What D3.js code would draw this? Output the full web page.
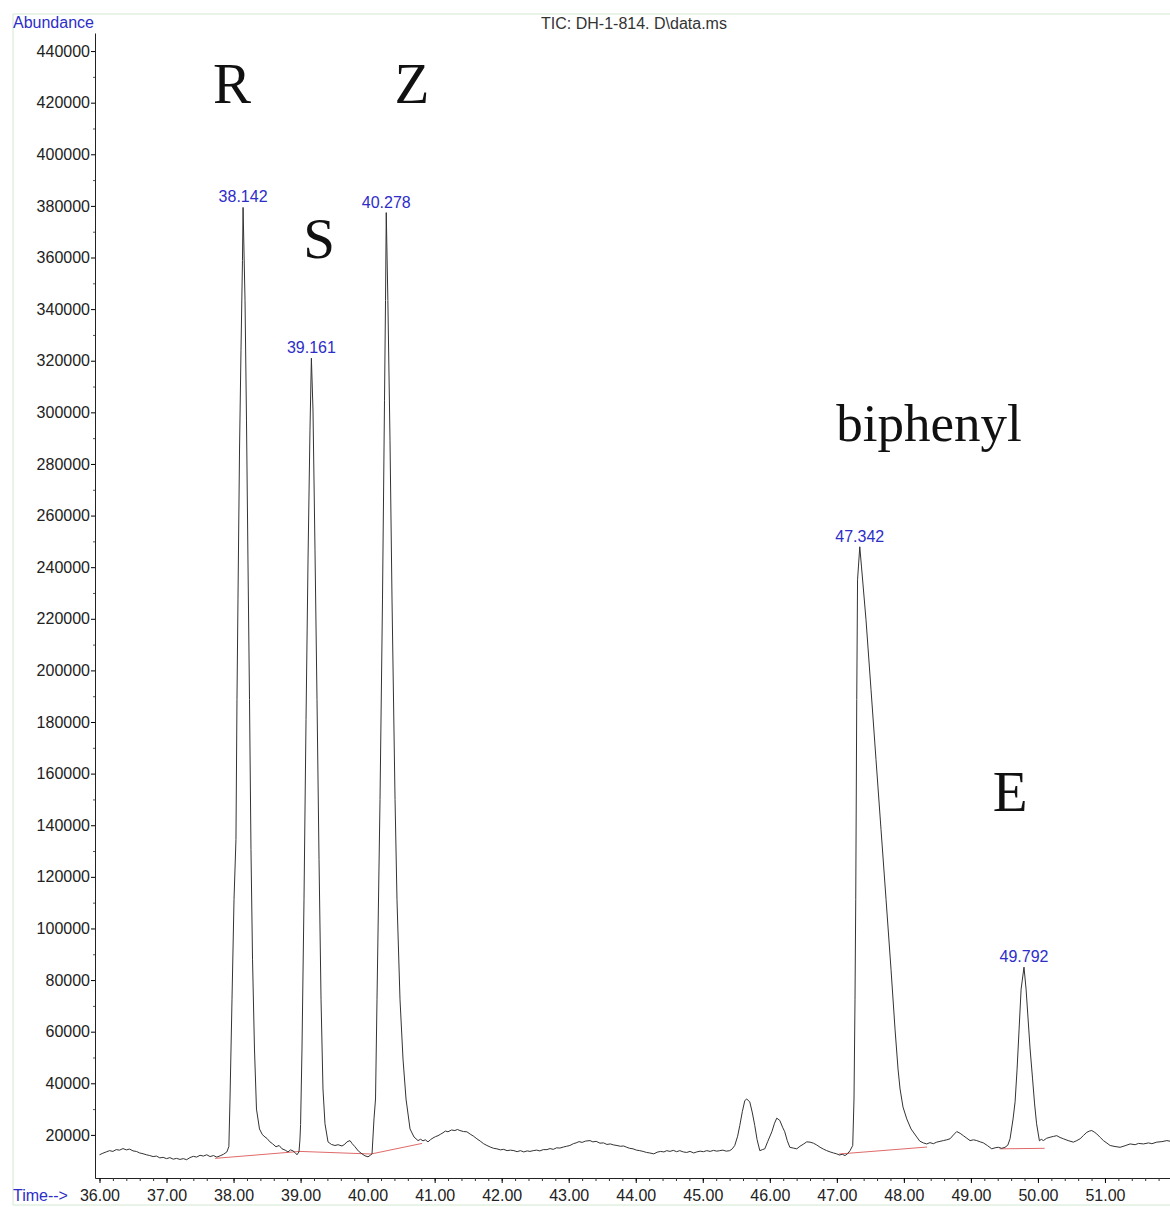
<!DOCTYPE html>
<html>
<head>
<meta charset="utf-8">
<script src="https://cdn.jsdelivr.net/npm/d3@7/dist/d3.min.js"></script>
<style>
  body { margin: 0; background: #fff; }
</style>
</head>
<body>
<div id="chart"></div>
<script>
// TIC trace (time in min, abundance)
var time = [
  36.00, 36.05, 36.10, 36.15, 36.20, 36.25, 36.30, 36.35, 36.40, 36.45,
  36.50, 36.55, 36.60, 36.65, 36.70, 36.75, 36.80, 36.85, 36.90, 36.95,
  37.00, 37.05, 37.10, 37.15, 37.20, 37.25, 37.30, 37.35, 37.40, 37.45,
  37.50, 37.55, 37.60, 37.65, 37.70, 37.75, 37.80, 37.85, 37.90, 37.93,
  37.947, 37.977, 38.007, 38.036, 38.051, 38.066, 38.089, 38.111, 38.133, 38.142,
  38.171, 38.193, 38.215, 38.238, 38.260, 38.283, 38.312, 38.342, 38.387, 38.43,
  38.469, 38.50, 38.543, 38.58, 38.633, 38.68, 38.723, 38.77, 38.812, 38.85,
  38.887, 38.92, 38.946, 38.976, 38.99, 39.00, 39.021, 39.051, 39.081, 39.111,
  39.140, 39.161, 39.185, 39.215, 39.245, 39.275, 39.305, 39.334, 39.364, 39.409,
  39.46, 39.513, 39.56, 39.618, 39.66, 39.692, 39.737, 39.77, 39.812, 39.86,
  39.916, 39.96, 40.006, 40.04, 40.066, 40.095, 40.118, 40.140, 40.185, 40.222,
  40.252, 40.267, 40.278, 40.302, 40.334, 40.364, 40.409, 40.438, 40.483, 40.528,
  40.573, 40.633, 40.692, 40.752, 40.79, 40.826, 40.86, 40.901, 40.94, 40.975,
  41.01, 41.05, 41.09, 41.124, 41.16, 41.199, 41.25, 41.303, 41.34, 41.377,
  41.43, 41.481, 41.53, 41.58, 41.63, 41.68, 41.73, 41.78, 41.83, 41.88,
  41.929, 41.98, 42.03, 42.08, 42.13, 42.183, 42.23, 42.28, 42.33, 42.38,
  42.422, 42.47, 42.52, 42.57, 42.62, 42.675, 42.72, 42.77, 42.82, 42.869,
  42.92, 42.97, 43.018, 43.07, 43.11, 43.153, 43.20, 43.25, 43.317, 43.36,
  43.41, 43.466, 43.52, 43.57, 43.62, 43.672, 43.72, 43.77, 43.82, 43.866,
  43.91, 43.96, 44.01, 44.06, 44.11, 44.16, 44.21, 44.269, 44.32, 44.37,
  44.42, 44.463, 44.51, 44.56, 44.61, 44.657, 44.71, 44.76, 44.81, 44.866,
  44.91, 44.96, 45.01, 45.06, 45.11, 45.16, 45.21, 45.254, 45.30, 45.35,
  45.403, 45.44, 45.477, 45.52, 45.552, 45.59, 45.627, 45.656, 45.701, 45.74,
  45.776, 45.81, 45.851, 45.89, 45.925, 45.97, 46.03, 46.07, 46.104, 46.149,
  46.19, 46.223, 46.26, 46.298, 46.35, 46.402, 46.45, 46.507, 46.55, 46.60,
  46.65, 46.70, 46.75, 46.80, 46.849, 46.90, 46.95, 46.998, 47.04, 47.08,
  47.122, 47.16, 47.197, 47.237, 47.256, 47.271, 47.282, 47.297, 47.309, 47.342,
  47.368, 47.435, 47.510, 47.584, 47.659, 47.734, 47.808, 47.868, 47.913, 47.943,
  47.987, 48.043, 48.107, 48.192, 48.237, 48.29, 48.341, 48.39, 48.44, 48.49,
  48.54, 48.589, 48.64, 48.689, 48.74, 48.789, 48.84, 48.887, 48.94, 48.987,
  49.04, 49.087, 49.14, 49.186, 49.25, 49.311, 49.36, 49.409, 49.46, 49.509,
  49.55, 49.584, 49.629, 49.659, 49.689, 49.719, 49.749, 49.792, 49.823, 49.853,
  49.883, 49.920, 49.950, 49.980, 50.022, 50.05, 50.081, 50.13, 50.181, 50.23,
  50.281, 50.33, 50.38, 50.45, 50.529, 50.58, 50.629, 50.68, 50.729, 50.77,
  50.803, 50.84, 50.877, 50.93, 50.977, 51.03, 51.077, 51.15, 51.226, 51.30,
  51.375, 51.45, 51.50, 51.574, 51.65, 51.70, 51.774, 51.85, 51.923, 51.98
];
var abundance = [
  12300, 12900, 13400, 13900, 13600, 14300, 14100, 14700, 14200, 14500,
  13800, 13600, 13000, 12700, 12300, 12000, 11600, 11800, 11100, 11300,
  10800, 11200, 10600, 10900, 10500, 10800, 10400, 11200, 11700, 11400,
  12100, 11800, 12300, 11600, 12000, 11400, 11900, 12500, 13400, 15500,
  33900, 72600, 111300, 134500, 188700, 227300, 285400, 324100, 358900, 379400,
  343400, 297000, 242800, 188700, 130600, 88100, 53300, 30000, 22300, 20100,
  19200, 18600, 17300, 16600, 15400, 15900, 14600, 14100, 13400, 14200,
  13800, 13100, 12300, 13400, 18000, 24000, 53300, 111300, 180900, 242800,
  293100, 321000, 300900, 246700, 188700, 126800, 72600, 37800, 24300, 17300,
  16300, 15900, 16200, 15700, 16400, 17300, 17800, 16600, 15400, 13800,
  12650, 11900, 11500, 12100, 12650, 26200, 33900, 72600, 150000, 227300,
  304700, 343400, 377400, 343400, 289200, 227300, 150000, 111300, 72600, 49400,
  33900, 22300, 19200, 17800, 18300, 17700, 18100, 17300, 18200, 18800,
  19300, 19700, 20300, 20800, 21500, 21200, 21900, 21700, 22100, 21700,
  21300, 21200, 20300, 19500, 18500, 17600, 16600, 15900, 15300, 14800,
  14600, 14200, 14400, 13900, 14100, 13900, 13500, 13900, 13400, 13800,
  13600, 13900, 14100, 13800, 14300, 14300, 14700, 14400, 15000, 14900,
  15300, 15600, 15900, 16600, 16900, 17400, 17100, 17600, 17800, 17300,
  17500, 16800, 16900, 16300, 16500, 16100, 15900, 15600, 15700, 15200,
  14800, 14600, 14100, 13900, 13600, 13200, 13000, 12650, 13300, 13600,
  13400, 13900, 13600, 14000, 13500, 13900, 13400, 13200, 13600, 13000,
  13400, 13700, 13500, 13900, 13600, 14000, 13700, 13900, 14100, 13700,
  13900, 14600, 15900, 19500, 23600, 29000, 33300, 33900, 32800, 28500,
  23600, 18200, 13900, 14300, 14600, 17500, 21200, 24500, 26500, 25600,
  23000, 21200, 17800, 15200, 14900, 14600, 15600, 16500, 17300, 17200,
  16800, 16100, 15200, 14500, 13900, 13400, 13000, 12650, 12200, 12500,
  12000, 12700, 13900, 15900, 33900, 72600, 111300, 188700, 235100, 247900,
  240100, 219600, 192500, 165500, 138400, 111300, 84200, 61000, 45500, 37800,
  30800, 26200, 22300, 19200, 17600, 16900, 16500, 17000, 16600, 17200,
  17500, 17800, 18100, 18500, 20000, 21300, 20600, 19700, 18700, 17800,
  18100, 17800, 17300, 16900, 15800, 14600, 15000, 15200, 14800, 15200,
  16000, 18500, 26200, 32800, 45500, 61000, 76500, 85000, 76500, 64900,
  53300, 41700, 32000, 24300, 17700, 18300, 17800, 18700, 19100, 19400,
  19700, 19000, 18500, 17800, 17200, 17800, 18500, 19800, 21000, 21500,
  21700, 21100, 20400, 19000, 17800, 16800, 15900, 15500, 15200, 15800,
  16500, 16200, 16700, 16500, 16900, 16600, 17200, 17400, 17800, 17500
];

// integrated peaks
var peakTimes = [38.142, 39.161, 40.278, 47.342, 49.792];
var peakAbund = [379400, 321000, 377400, 247900, 85000];

// red integration baselines: start and end of each
var baseStartT = [37.723, 38.991, 40.051, 47.033, 49.428];
var baseStartV = [10900, 13600, 12600, 12600, 14600];
var baseEndT = [38.991, 40.051, 40.812, 48.345, 50.099];
var baseEndV = [13600, 12600, 16700, 15300, 14800];

// compound names written on the chart
var compoundNames = ["R", "S", "Z", "biphenyl", "E"];
var compoundT = [37.977, 39.275, 40.662, 48.375, 49.584];
var compoundV = [420000, 360000, 420000, 289000, 145600];

var xTickValues = [36, 37, 38, 39, 40, 41, 42, 43, 44, 45, 46, 47, 48, 49, 50, 51];
var yTickValues = [20000, 40000, 60000, 80000, 100000, 120000, 140000, 160000, 180000, 200000,
  220000, 240000, 260000, 280000, 300000, 320000, 340000, 360000, 380000, 400000, 420000, 440000];

var blue = "#2d2dc8";
var font = "'Liberation Sans', Arial, sans-serif";

var svg = d3.select("#chart")
  .append("svg")
  .attr("width", 1170)
  .attr("height", 1207)
  .style("font-family", font);

// light green frame
svg.append("path")
  .attr("d", "M1172,14 H13 V1205 H1172")
  .attr("fill", "none")
  .attr("stroke", "#cfe9cf")
  .attr("stroke-width", 1);

var xScale = d3.scaleLinear()
  .domain([35.933, 52.0])
  .range([95, 1172]);

var yScale = d3.scaleLinear()
  .domain([3300, 447000])
  .range([1178, 33]);

// x axis, minor ticks every 0.2 min
svg.append("g")
  .attr("transform", "translate(0,1178)")
  .call(d3.axisBottom(xScale).tickValues(d3.range(36, 52, 0.2)).tickSize(3).tickSizeOuter(0).tickFormat(""))
  .call(function (g) { g.selectAll("line").attr("stroke", "#333"); g.select(".domain").attr("stroke", "#222"); });

svg.append("g")
  .attr("class", "xaxis")
  .attr("transform", "translate(0,1178)")
  .call(d3.axisBottom(xScale).tickValues(xTickValues).tickSize(5).tickSizeOuter(0).tickPadding(7)
    .tickFormat(d3.format(".2f")))
  .call(function (g) { g.select(".domain").remove(); });

svg.selectAll(".xaxis text")
  .style("font-size", "16px")
  .style("font-family", font)
  .attr("fill", "#222");

// y axis
svg.append("g")
  .attr("transform", "translate(95,0)")
  .call(d3.axisLeft(yScale).tickValues(d3.range(30000, 440000, 20000)).tickSize(2).tickSizeOuter(0).tickFormat(""))
  .call(function (g) { g.selectAll("line").attr("stroke", "#555"); g.select(".domain").remove(); });

svg.append("g")
  .attr("class", "yaxis")
  .attr("transform", "translate(95,0)")
  .call(d3.axisLeft(yScale).tickValues(yTickValues).tickSize(4).tickSizeOuter(0).tickPadding(1)
    .tickFormat(d3.format("d")))
  .call(function (g) { g.select(".domain").attr("stroke", "#222"); });

svg.selectAll(".yaxis text")
  .style("font-size", "16px")
  .style("font-family", font)
  .attr("fill", "#222");

// axis captions and title
svg.append("text")
  .attr("x", 13).attr("y", 28)
  .text("Abundance")
  .style("font-size", "16px")
  .attr("fill", blue);

svg.append("text")
  .attr("x", 13).attr("y", 1201)
  .text("Time-->")
  .style("font-size", "16px")
  .attr("fill", blue);

svg.append("text")
  .attr("x", 634).attr("y", 29)
  .attr("text-anchor", "middle")
  .text("TIC: DH-1-814. D\\data.ms")
  .style("font-size", "16px")
  .attr("fill", "#333");

// integration baselines
svg.selectAll("line.base")
  .data(baseStartT)
  .enter()
  .append("line")
  .attr("class", "base")
  .attr("x1", function (d, i) { return xScale(baseStartT[i]); })
  .attr("y1", function (d, i) { return yScale(baseStartV[i]); })
  .attr("x2", function (d, i) { return xScale(baseEndT[i]); })
  .attr("y2", function (d, i) { return yScale(baseEndV[i]); })
  .attr("stroke", "#e06a6a")
  .attr("stroke-width", 1);

// the trace
var line = d3.line()
  .x(function (d) { return xScale(d[0]); })
  .y(function (d) { return yScale(d[1]); });

svg.append("path")
  .datum(d3.zip(time, abundance))
  .attr("d", line)
  .attr("fill", "none")
  .attr("stroke", "#333")
  .attr("stroke-width", 1);

// retention time labels
svg.selectAll("text.peak")
  .data(peakTimes)
  .enter()
  .append("text")
  .attr("class", "peak")
  .attr("x", function (d) { return xScale(d); })
  .attr("y", function (d, i) { return yScale(peakAbund[i]) - 5; })
  .attr("text-anchor", "middle")
  .text(function (d) { return d3.format(".3f")(d); })
  .style("font-size", "16px")
  .attr("fill", blue);

// compound names
svg.selectAll("text.compound")
  .data(compoundNames)
  .enter()
  .append("text")
  .attr("class", "compound")
  .attr("x", function (d, i) { return xScale(compoundT[i]); })
  .attr("y", function (d, i) { return yScale(compoundV[i]); })
  .attr("text-anchor", "middle")
  .text(function (d) { return d; })
  .style("font-family", "'Liberation Serif', 'Times New Roman', serif")
  .style("font-size", function (d) { return d === "biphenyl" ? "53px" : "57px"; })
  .attr("fill", "#111");
</script>
</body>
</html>
